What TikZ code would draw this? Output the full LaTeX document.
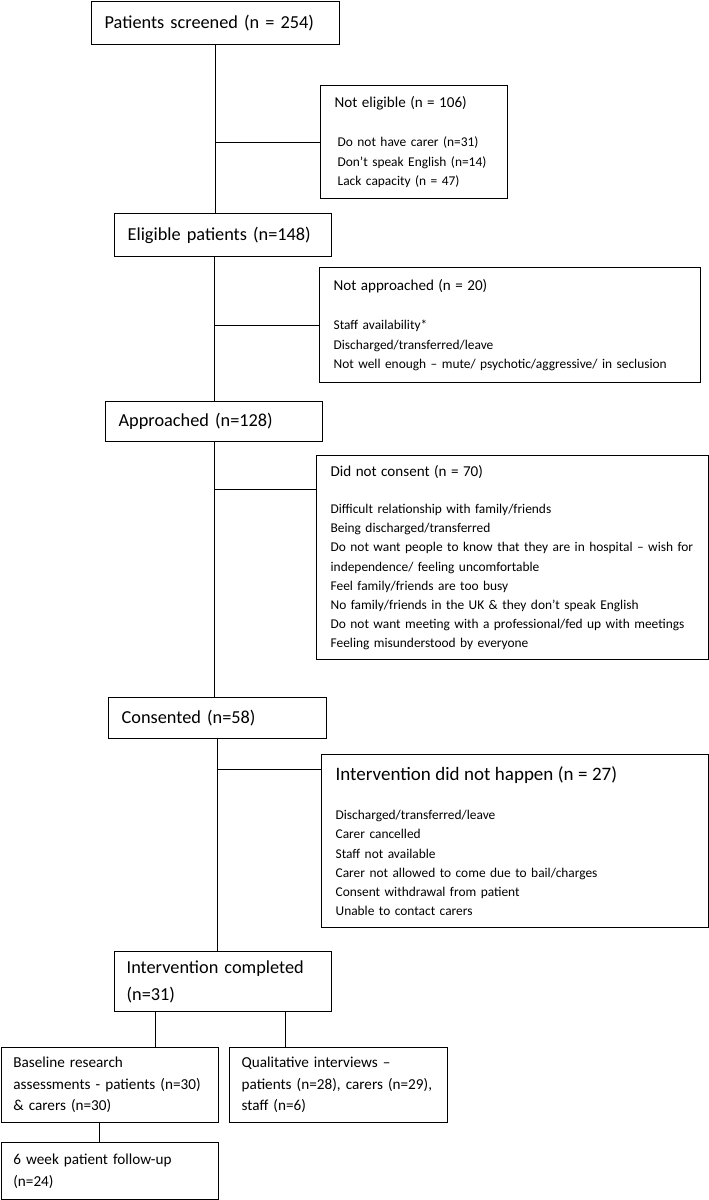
\documentclass[tikz,border=0pt]{standalone}
\usepackage{fontspec}
\setmainfont{Carlito}

\begin{document}
\begin{tikzpicture}[x=1pt, y=-1pt, line width=1pt,
    flowbox/.style 2 args={draw, line width=1.3pt, anchor=north west, align=left,
      inner xsep=12pt, inner ysep=0pt, text width=#1pt, minimum height=#2pt},
    bigfont/.style={font=\fontsize{18.3}{27}\selectfont},
    midfont/.style={font=\fontsize{15.2}{21.5}\selectfont},
    itemfont/.style={font=\fontsize{13.4}{19.2}\selectfont}]
  \useasboundingbox (0,0) rectangle (709,1200);
  % main column
  \node[flowbox={224}{43}, bigfont] (screened) at (91,1) {\hspace*{1pt}Patients screened (n = 254)};
  \node[flowbox={193}{43}, bigfont] (eligible) at (114,213) {\hspace*{1pt}Eligible patients (n=148)};
  \node[flowbox={193}{40}, bigfont] (approached) at (105,401) {\hspace*{1pt}Approached (n=128)};
  \node[flowbox={194}{41}, bigfont] (consented) at (108,697) {\hspace*{1pt}Consented (n=58)};
  \node[flowbox={193}{60}, bigfont] (completed) at (114,951) {Intervention completed\\(n=31)};
  \node[flowbox={193}{75}, midfont] (baseline) at (0.7,1047)
    {Baseline research\\assessments - patients (n=30)\\\& carers (n=30)};
  \node[flowbox={194}{75}, midfont] (qualitative) at (229,1047)
    {Qualitative interviews –\\patients (n=28), carers (n=29),\\staff (n=6)};
  \node[flowbox={193}{57}, midfont] (followup) at (0.7,1142) {6 week patient follow-up\\(n=24)};
  % exclusions
  \node[flowbox={163}{113}, itemfont] (noteligible) at (320,85)
    {\fontsize{15.1}{19.2}\selectfont\hspace*{2pt}Not eligible (n = 106)\\[20pt]
     \fontsize{13.4}{19.2}\selectfont \hspace*{5pt}Do not have carer (n=31)\\\hspace*{5pt}Don’t speak English (n=14)\\
     \hspace*{5pt}Lack capacity (n = 47)};
  \node[flowbox={357}{115}, itemfont] (notapproached) at (319,267)
    {\fontsize{15.1}{19.2}\selectfont\hspace*{2pt}Not approached (n = 20)\\[20pt]
     \fontsize{13.4}{19.2}\selectfont\hspace*{2pt}Staff availability*\\\hspace*{2pt}Discharged/transferred/leave\\
     \hspace*{2pt}Not well enough – mute/ psychotic/aggressive/ in seclusion};
  \node[flowbox={368}{204}, itemfont] (noconsent) at (316,455)
    {\fontsize{15.1}{19.2}\selectfont\hspace*{2pt}Did not consent (n = 70)\\[18pt]
     \fontsize{13.4}{19.2}\selectfont\hspace*{2pt}Difficult relationship with family/friends\\
     \hspace*{2pt}Being discharged/transferred\\
     \hspace*{2pt}Do not want people to know that they are in hospital – wish for\\
     \hspace*{2pt}independence/ feeling uncomfortable\\
     \hspace*{2pt}Feel family/friends are too busy\\
     \hspace*{2pt}No family/friends in the UK \& they don’t speak English\\
     \hspace*{2pt}Do not want meeting with a professional/fed up with meetings\\
     \hspace*{2pt}Feeling misunderstood by everyone};
  \node[flowbox={363}{173}, itemfont] (nothappen) at (321,754)
    {\fontsize{19}{19.2}\selectfont\hspace*{2pt}Intervention did not happen (n = 27)\\[20pt]
     \fontsize{13.4}{19.2}\selectfont\hspace*{2pt}Discharged/transferred/leave\\\hspace*{2pt}Carer cancelled\\
     \hspace*{2pt}Staff not available\\\hspace*{2pt}Carer not allowed to come due to bail/charges\\
     \hspace*{2pt}Consent withdrawal from patient\\\hspace*{2pt}Unable to contact carers};
  % trunk
  \draw (screened.south) -- (screened.south |- eligible.north);
  \draw (approached.north |- eligible.south) -- (approached.north);
  \draw (approached.south) -- (approached.south |- consented.north);
  \draw (consented.south) -- (consented.south |- completed.north);
  % side branches
  \draw (noteligible.west) -- (noteligible.west -| screened.south);
  \draw (notapproached.west) -- (notapproached.west -| approached.north);
  \coordinate (ncjoin) at ([yshift=-34pt]noconsent.north west);
  \draw (ncjoin) -- (ncjoin -| approached.south);
  \coordinate (nhjoin) at ([yshift=-15pt]nothappen.north west);
  \draw (nhjoin) -- (nhjoin -| consented.south);
  % outcomes
  \foreach \dx/\target in {41/baseline, 171/qualitative} {
    \coordinate (split) at ([xshift=\dx pt]completed.south west);
    \draw (split) -- (split |- \target.north);
  }
  \coordinate (fujoin) at ([xshift=-10pt]baseline.south);
  \draw (fujoin) -- (fujoin |- followup.north);
\end{tikzpicture}
\end{document}
